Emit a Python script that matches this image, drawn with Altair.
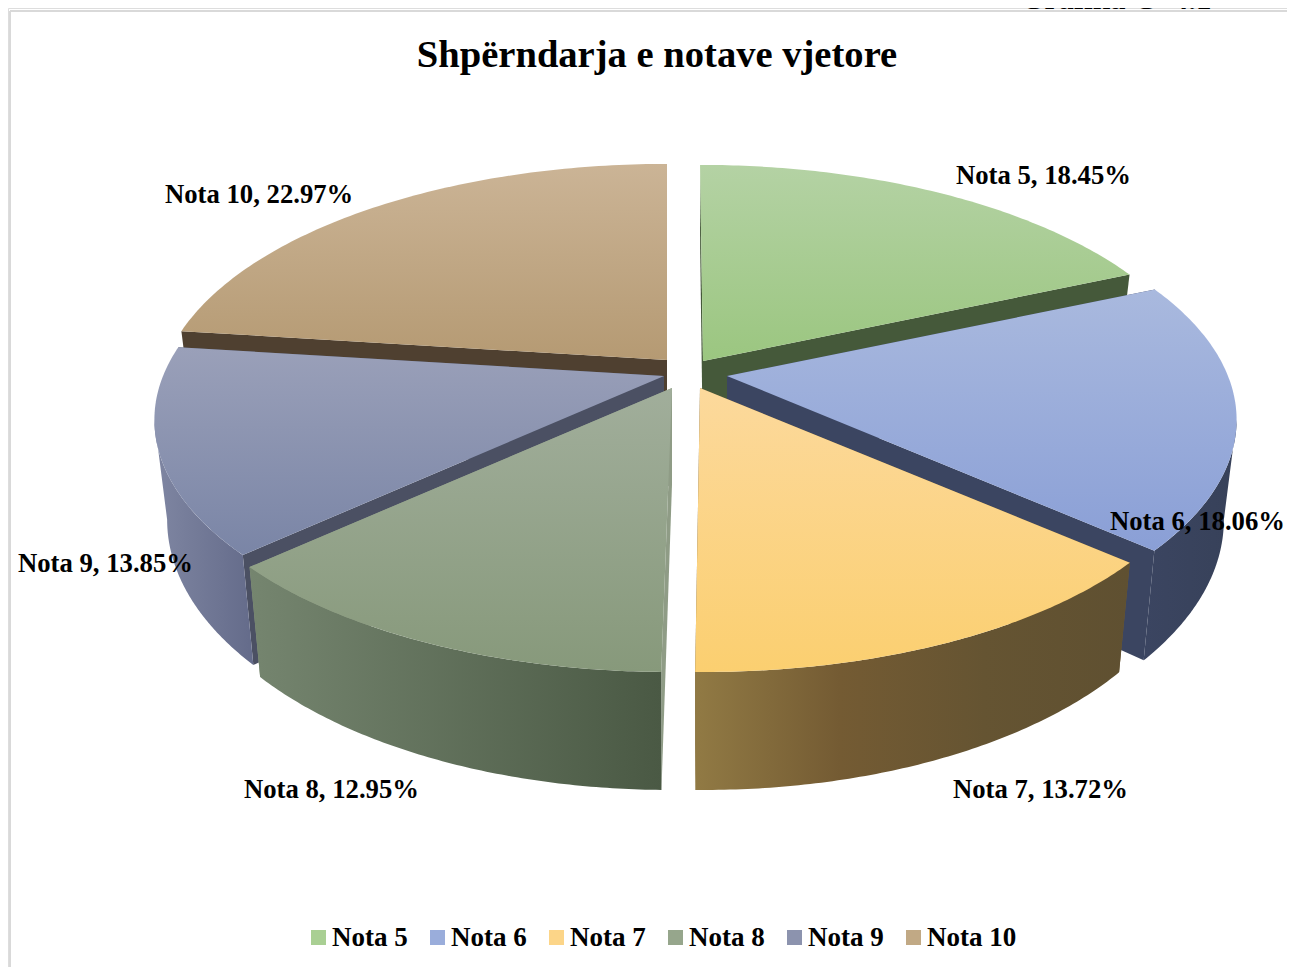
import numpy as np
import pandas as pd
import altair as alt

# ---- chart values ----
NAMES = ["Nota 5", "Nota 6", "Nota 7", "Nota 8", "Nota 9", "Nota 10"]
SHARES = [18.45, 18.06, 13.72, 12.95, 13.85, 22.97]
TITLE = "Shpërndarja e notave vjetore"
CAPTION = "Grafika G \u00a04.1"

# ---- colours ----
LEGEND_COLORS = ["#a9cf93", "#9aaddb", "#fcd588", "#96a68c", "#8c93ae", "#c1a985"]
TOP_GRAD = [("#b4d2a4", "#9bc680"), ("#a9b9de", "#8a9fd6"), ("#fcd99c", "#fbcf70"),
            ("#a1ae9b", "#87997b"), ("#9aa0b9", "#7a85a6"), ("#cbb496", "#b59a73")]
WALL_GRAD = [("#45593a", "#45593a"), ("#3b4561", "#374159"),
             ("#917a44", "#745b33", "#655432", "#5f5031"),
             ("#75856f", "#4a5944"), ("#7f86a2", "#646b8a"), ("#4f4030", "#4f4030")]
FACE = ["#45593a", "#3b4561", "#705a33", "#8f9c86", "#4b5063", "#4f4030"]

# ---- 3-D pie layout (page pixels) ----
APEX_X = [703, 727, 700, 672, 664, 667]
APEX_Y = [361, 376, 388, 388, 376, 360]
SHEAR = [-3.5, 0, -3.3, 1.6, 0, 0]
RX, RY, PERSP = 501, 232, 0.183
DEPTH, BASE_SHRINK = 96.4, 0.975
PAINT_ORDER = [5, 0, 4, 1, 3, 2]
LABEL_X = [956, 1110, 953, 244, 18, 165]
LABEL_Y = [176, 522, 790, 790, 564, 195]
W, H = 1279, 959

edges = np.concatenate([[0], np.cumsum(SHARES)]) / sum(SHARES) * 2 * np.pi
TH_RIGHT = np.arccos(-PERSP)           # where the rim reaches its right-most point
TH_LEFT = 2 * np.pi - TH_RIGHT         # and its left-most point


def rim(k, th):
    w = 1 + PERSP * np.cos(th)
    return (APEX_X[k] + (RX * np.sin(th) + SHEAR[k] * np.cos(th)) / w,
            APEX_Y[k] - RY * np.cos(th) / w)


def lower(k, x, y, th):
    w = 1 + PERSP * np.cos(th)
    return APEX_X[k] + (x - APEX_X[k]) * BASE_SHRINK, y + DEPTH / w


def table(xs, ys):
    xs, ys = list(xs), list(ys)
    xs.append(xs[0])
    ys.append(ys[0])
    return pd.DataFrame({"x": xs, "y": ys, "i": range(len(xs))})


xscale = alt.Scale(domain=[8, 8 + W], range=[0, W], nice=False, zero=False)
yscale = alt.Scale(domain=[8, 8 + H], range=[0, H], nice=False, zero=False)


def poly(df, colors, vertical):
    n = len(colors) - 1
    grad = alt.Gradient(
        gradient="linear",
        stops=[alt.GradientStop(color=c, offset=i / n) for i, c in enumerate(colors)],
        x1=0, y1=0, x2=0 if vertical else 1, y2=1 if vertical else 0,
    )
    return alt.Chart(df).mark_line(fill=grad, strokeWidth=0, interpolate="linear").encode(
        x=alt.X("x:Q", scale=xscale, axis=None),
        y=alt.Y("y:Q", scale=yscale, axis=None),
        order=alt.Order("i:Q"),
    )


layers = []

# frame
layers.append(alt.Chart(pd.DataFrame({"a": [0]})).mark_rule(color="#d9d9d9", strokeWidth=2).encode(
    x=alt.value(2), x2=alt.value(W), y=alt.value(3)))
layers.append(alt.Chart(pd.DataFrame({"a": [0]})).mark_rule(color="#d9d9d9", strokeWidth=2).encode(
    x=alt.value(2), y=alt.value(3), y2=alt.value(H)))

for k in PAINT_ORDER:
    th = np.linspace(edges[k], edges[k + 1], 90)
    rx, ry = rim(k, th)
    bx, by = lower(k, rx, ry, th)
    ax, ay = float(APEX_X[k]), float(APEX_Y[k])
    abx, aby = ax, ay + DEPTH
    # cut faces
    for j in (0, -1):
        layers.append(poly(table([ax, rx[j], bx[j], abx], [ay, ry[j], by[j], aby]),
                           (FACE[k], FACE[k]), True))
    # outer wall: only the part between the rim's silhouette points
    lo, hi = max(edges[k], TH_RIGHT), min(edges[k + 1], TH_LEFT)
    if hi > lo:
        tw = np.linspace(lo, hi, 90)
        wx, wy = rim(k, tw)
        ux, uy = lower(k, wx, wy, tw)
        layers.append(poly(table(np.r_[wx, ux[::-1]], np.r_[wy, uy[::-1]]), WALL_GRAD[k], False))
    # top
    layers.append(poly(table(np.r_[ax, rx], np.r_[ay, ry]), TOP_GRAD[k], True))

labels = pd.DataFrame({
    "name": NAMES,
    "label": [f"{n}, {v:.2f}%" for n, v in zip(NAMES, SHARES)],
    "x": LABEL_X,
    "y": LABEL_Y,
})

layers.append(alt.Chart(labels).mark_text(
    font="Liberation Serif", fontWeight="bold", fontSize=26.7, align="left", baseline="middle", color="#000000"
).encode(x=alt.X("x:Q", scale=xscale, axis=None), y=alt.Y("y:Q", scale=yscale, axis=None), text="label:N"))

# legend carrier: points of size 0
layers.append(alt.Chart(labels).mark_point(filled=True, shape="square", size=0, opacity=1).encode(
    x=alt.X("x:Q", scale=xscale, axis=None),
    y=alt.Y("y:Q", scale=yscale, axis=None),
    color=alt.Color("name:N", scale=alt.Scale(domain=NAMES, range=LEGEND_COLORS), sort=NAMES,
                    legend=alt.Legend(title=None, orient="none", direction="horizontal", columns=6,
                                      legendX=297, legendY=916, symbolType="square", symbolSize=225,
                                      symbolStrokeWidth=0, symbolOpacity=1, labelFont="Liberation Serif",
                                      labelFontWeight="bold", labelFontSize=27, labelColor="#000000",
                                      labelOffset=0, columnPadding=16, gridAlign="none",
                                      labelLimit=200, padding=0)),
))

# caption cut off by the top edge
layers.append(alt.Chart(pd.DataFrame({"t": [CAPTION]})).mark_text(
    font="Liberation Serif", fontWeight="bold", fontSize=31, align="center", baseline="alphabetic", color="#000000"
).encode(x=alt.value(1108), y=alt.value(1), text="t:N"))

chart = alt.layer(*layers).properties(
    width=W, height=H, padding=0,
    autosize=alt.AutoSizeParams(type="none"),
    title=alt.TitleParams(TITLE, font="Liberation Serif", fontWeight="bold", fontSize=38.6,
                          color="#000000", anchor="middle", dx=9.5, offset=-92),
).configure_view(stroke=None).configure(background="white")

chart.save("out.html", embed_options={"renderer": "svg", "actions": False})
